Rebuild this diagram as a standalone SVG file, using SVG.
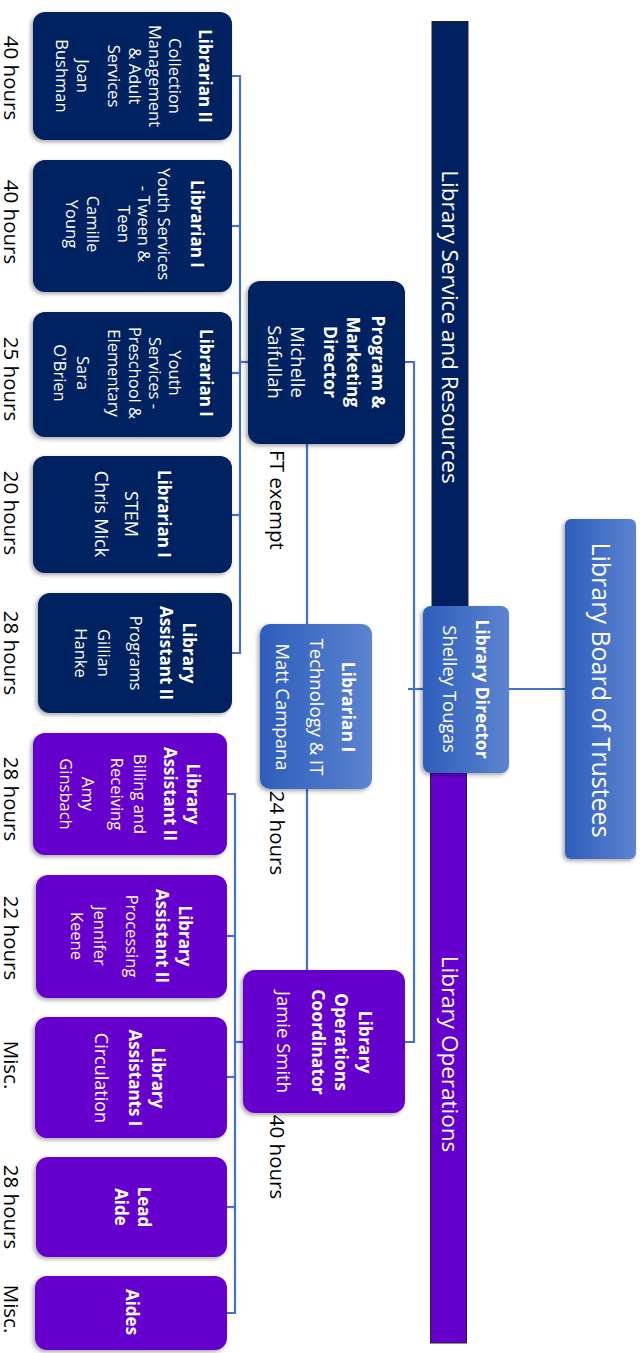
<svg xmlns="http://www.w3.org/2000/svg" width="643" height="1353" viewBox="0 0 643 1353">
<defs>
<style>
text{font-family:"Open Sans","Noto Sans","Liberation Sans",sans-serif;text-anchor:middle}
.w{fill:#fff;font-size:16.5px}
.b{font-weight:bold;font-size:17px}
.m{fill:#fff;font-size:18.5px}
.mb{font-weight:bold;font-size:17.5px}
.big{font-size:18px}
.lbl{fill:#000;font-size:20.5px}
.bar{fill:#fff;font-size:22.5px}
.navy{fill:#002060}
.purple{fill:#6600CC}
.blue{fill:url(#gb)}
.con{stroke:#4472C4;stroke-width:2.2;fill:none}
</style>
<linearGradient id="gb" x1="0" y1="0" x2="1" y2="0">
<stop offset="0" stop-color="#2D5DBB"/>
<stop offset="1" stop-color="#5C84D0"/>
</linearGradient>
<filter id="sh" x="-20%" y="-20%" width="140%" height="140%">
<feDropShadow dx="-2" dy="2" stdDeviation="2" flood-color="#000" flood-opacity="0.35"/>
</filter>
</defs>
<rect width="643" height="1353" fill="#fff"/>

<g id="bars">
<rect x="432" y="21.5" width="36" height="670" fill="#002060" stroke="#222" stroke-width="1"/>
<rect x="430.5" y="690" width="36" height="653" fill="#6600CC" stroke="#222" stroke-width="1"/>
<text class="bar" transform="rotate(90)" x="327" y="-441.7">Library Service and Resources</text>
<text class="bar" transform="rotate(90)" x="1054" y="-441.7">Library Operations</text>
</g>

<g id="connectors">
<line class="con" x1="509" y1="689" x2="565" y2="689"/>
<line class="con" x1="408" y1="689" x2="423" y2="689"/>
<polyline class="con" points="405,362 414,362 414,1042 405,1042"/>
<line class="con" x1="307" y1="444" x2="307" y2="970"/>
<line class="con" x1="240" y1="362" x2="248" y2="362"/>
<polyline class="con" points="232,76 240,76 240,653 232,653"/>
<line class="con" x1="232" y1="226" x2="240" y2="226"/>
<line class="con" x1="232" y1="373" x2="240" y2="373"/>
<line class="con" x1="232" y1="515" x2="240" y2="515"/>
<polyline class="con" points="227,794 235,794 235,1313 227,1313"/>
<line class="con" x1="227" y1="936" x2="235" y2="936"/>
<line class="con" x1="227" y1="1077" x2="235" y2="1077"/>
<line class="con" x1="227" y1="1207" x2="235" y2="1207"/>
<line class="con" x1="235" y1="1042" x2="243" y2="1042"/>
</g>

<g id="board">
<rect class="blue" x="565" y="519" width="71" height="340" rx="6" filter="url(#sh)"/>
<text class="w" style="font-size:25px" transform="rotate(90)" x="690" y="-591.7">Library Board of Trustees</text>
</g>

<g id="director">
<rect class="blue" x="423" y="606" width="86" height="167" rx="8" filter="url(#sh)"/>
<text class="m" transform="rotate(90)"><tspan class="mb" x="689" y="-475.5">Library Director</tspan><tspan x="689" y="-443.2">Shelley Tougas</tspan></text>
</g>

<g id="program-director">
<rect class="navy" x="248" y="281" width="157" height="163" rx="12" filter="url(#sh)"/>
<text class="m" transform="rotate(90)"><tspan class="mb" x="362" y="-371.5">Program &amp;</tspan><tspan class="mb" x="362" y="-346.5">Marketing</tspan><tspan class="mb" x="362" y="-323.5">Director</tspan><tspan x="362" y="-291.2">Michelle</tspan><tspan x="362" y="-268.2">Saifullah</tspan></text>
<text class="lbl" transform="rotate(90)" x="500" y="-269.9">FT exempt</text>
</g>

<g id="tech-librarian">
<rect class="blue" x="260" y="624" width="112" height="165" rx="10" filter="url(#sh)"/>
<text class="m" transform="rotate(90)"><tspan class="mb" x="707" y="-341.5">Librarian I</tspan><tspan x="707" y="-310.2">Technology &amp; IT</tspan><tspan x="707" y="-276.2">Matt Campana</tspan></text>
<text class="lbl" transform="rotate(90)" x="833" y="-269.9">24 hours</text>
</g>

<g id="operations-coordinator">
<rect class="purple" x="243" y="970" width="162" height="143" rx="12" filter="url(#sh)"/>
<text class="m" transform="rotate(90)"><tspan class="mb" x="1042" y="-358.5">Library</tspan><tspan class="mb" x="1042" y="-334.5">Operations</tspan><tspan class="mb" x="1042" y="-311.5">Coordinator</tspan><tspan x="1042" y="-277.2">Jamie Smith</tspan></text>
<text class="lbl" transform="rotate(90)" x="1157" y="-269.9">40 hours</text>
</g>

<g id="librarian-collection">
<rect class="navy" x="33" y="12" width="199" height="128" rx="12" filter="url(#sh)"/>
<text class="w" transform="rotate(90)"><tspan class="b" x="76" y="-198.7">Librarian II</tspan><tspan x="76" y="-169">Collection</tspan><tspan x="76" y="-149">Management</tspan><tspan x="76" y="-129">&amp; Adult</tspan><tspan x="76" y="-108">Services</tspan><tspan x="76" y="-77">Joan</tspan><tspan x="76" y="-56">Bushman</tspan></text>
<text class="lbl" transform="rotate(90)" x="78" y="-3.6">40 hours</text>
</g>

<g id="librarian-tween">
<rect class="navy" x="33" y="160" width="199" height="132" rx="12" filter="url(#sh)"/>
<text class="w" transform="rotate(90)"><tspan class="b" x="224" y="-190.7">Librarian I</tspan><tspan x="224" y="-158">Youth Services</tspan><tspan x="224" y="-138">- Tween &amp;</tspan><tspan x="224" y="-118">Teen</tspan><tspan x="224" y="-87">Camille</tspan><tspan x="224" y="-66">Young</tspan></text>
<text class="lbl" transform="rotate(90)" x="222" y="-3.6">40 hours</text>
</g>

<g id="librarian-preschool">
<rect class="navy" x="33" y="312" width="199" height="125" rx="12" filter="url(#sh)"/>
<text class="w" transform="rotate(90)"><tspan class="b" x="373" y="-199.7">Librarian I</tspan><tspan x="373" y="-169">Youth</tspan><tspan x="373" y="-149">Services -</tspan><tspan x="373" y="-129">Preschool &amp;</tspan><tspan x="373" y="-108">Elementary</tspan><tspan x="373" y="-77">Sara</tspan><tspan x="373" y="-54">O'Brien</tspan></text>
<text class="lbl" transform="rotate(90)" x="379" y="-3.6">25 hours</text>
</g>

<g id="librarian-stem">
<rect class="navy" x="33" y="456" width="199" height="117" rx="12" filter="url(#sh)"/>
<text class="w big" transform="rotate(90)"><tspan class="b" x="514" y="-157.7">Librarian I</tspan><tspan x="514" y="-125.3">STEM</tspan><tspan x="514" y="-95.3">Chris Mick</tspan></text>
<text class="lbl" transform="rotate(90)" x="513" y="-3.6">20 hours</text>
</g>

<g id="assistant-programs">
<rect class="navy" x="38" y="593" width="194" height="120" rx="12" filter="url(#sh)"/>
<text class="w" transform="rotate(90)"><tspan class="b" x="653" y="-182.7">Library</tspan><tspan class="b" x="653" y="-159.7">Assistant II</tspan><tspan x="653" y="-130">Programs</tspan><tspan x="653" y="-98">Gillian</tspan><tspan x="653" y="-75">Hanke</tspan></text>
<text class="lbl" transform="rotate(90)" x="653" y="-3.6">28 hours</text>
</g>

<g id="assistant-billing">
<rect class="purple" x="33" y="733" width="194" height="122" rx="12" filter="url(#sh)"/>
<text class="w" transform="rotate(90)"><tspan class="b" x="794" y="-186.7">Library</tspan><tspan class="b" x="794" y="-163.7">Assistant II</tspan><tspan x="794" y="-134">Billing and</tspan><tspan x="794" y="-111">Receiving</tspan><tspan x="794" y="-82">Amy</tspan><tspan x="794" y="-60">Ginsbach</tspan></text>
<text class="lbl" transform="rotate(90)" x="799" y="-3.6">28 hours</text>
</g>

<g id="assistant-processing">
<rect class="purple" x="36" y="875" width="191" height="123" rx="12" filter="url(#sh)"/>
<text class="w" transform="rotate(90)"><tspan class="b" x="936" y="-178.7">Library</tspan><tspan class="b" x="936" y="-155.7">Assistant II</tspan><tspan x="936" y="-126">Processing</tspan><tspan x="936" y="-94">Jennifer</tspan><tspan x="936" y="-71">Keene</tspan></text>
<text class="lbl" transform="rotate(90)" x="938" y="-3.6">22 hours</text>
</g>

<g id="assistants-circulation">
<rect class="purple" x="35" y="1017" width="192" height="121" rx="12" filter="url(#sh)"/>
<text class="w big" transform="rotate(90)"><tspan class="b" x="1078" y="-151.7">Library</tspan><tspan class="b" x="1078" y="-128.7">Assistants I</tspan><tspan x="1078" y="-95.3">Circulation</tspan></text>
<text class="lbl" transform="rotate(90)" x="1065" y="-3.6">Misc.</text>
</g>

<g id="lead-aide">
<rect class="purple" x="36" y="1157" width="191" height="100" rx="12" filter="url(#sh)"/>
<text class="w" transform="rotate(90)"><tspan class="b" x="1207" y="-137.7">Lead</tspan><tspan class="b" x="1207" y="-114.7">Aide</tspan></text>
<text class="lbl" transform="rotate(90)" x="1207" y="-3.6">28 hours</text>
</g>

<g id="aides">
<rect class="purple" x="35" y="1276" width="192" height="74" rx="12" filter="url(#sh)"/>
<text class="w" transform="rotate(90)"><tspan class="b" x="1312" y="-125.7">Aides</tspan></text>
<text class="lbl" transform="rotate(90)" x="1309" y="-3.6">Misc.</text>
</g>
</svg>
